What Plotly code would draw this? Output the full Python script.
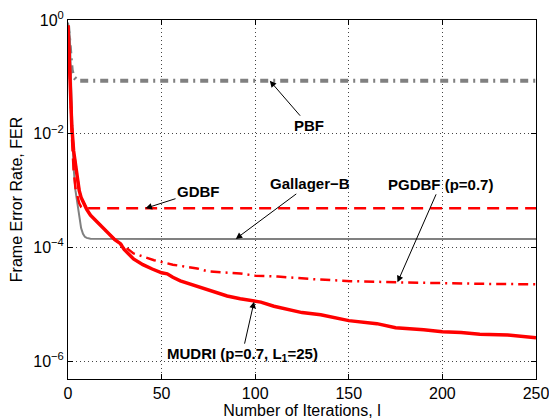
import math
import plotly.graph_objects as go

# ---- data ----
mudri_x = [0, 1, 2, 3, 4, 5, 6, 7, 8, 10, 12, 15, 17, 20, 23, 25, 28, 30, 35, 40, 45, 50, 53, 56,
           60, 65, 75, 85, 92, 100, 103, 110, 125, 135, 150, 165, 175, 190, 200, 210, 220, 235, 250]
mudri_y = [0.8, 0.11, 0.014, 5.0e-3, 2.8e-3, 1.6e-3, 1.0e-3, 7.6e-4, 6.3e-4, 4.7e-4, 3.7e-4, 2.95e-4,
           2.5e-4, 2.0e-4, 1.55e-4, 1.38e-4, 1.17e-4, 9.3e-5, 6.3e-5, 5.0e-5, 4.2e-5, 3.6e-5, 3.45e-5,
           3.0e-5, 2.6e-5, 2.3e-5, 1.82e-5, 1.41e-5, 1.26e-5, 1.12e-5, 1.10e-5, 9.3e-6, 7.2e-6, 6.6e-6,
           5.2e-6, 4.6e-6, 3.9e-6, 3.6e-6, 3.3e-6, 3.2e-6, 3.0e-6, 2.9e-6, 2.6e-6]

pgdbf_x = [0, 1, 2, 3, 4, 5, 6, 7, 8, 10, 12, 15, 17, 20, 23, 25, 28, 31, 35, 39, 46, 56, 69, 75,
           92, 100, 112, 130, 151, 176, 201, 225, 250]
pgdbf_y = [0.8, 0.11, 0.014, 5.0e-3, 2.8e-3, 1.6e-3, 1.0e-3, 7.6e-4, 6.3e-4, 4.7e-4, 3.7e-4, 2.95e-4,
           2.5e-4, 2.0e-4, 1.55e-4, 1.38e-4, 1.15e-4, 1.0e-4, 7.9e-5, 7.2e-5, 6.0e-5, 5.0e-5, 4.3e-5,
           3.8e-5, 3.5e-5, 3.2e-5, 3.1e-5, 2.8e-5, 2.57e-5, 2.45e-5, 2.34e-5, 2.3e-5, 2.26e-5]

gdbf_x = [0, 1, 2, 3, 4, 5, 6, 7, 8, 50, 100, 150, 200, 250]
gdbf_y = [0.8, 0.16, 0.01, 2.3e-3, 1.1e-3, 7.6e-4, 6.0e-4, 5.2e-4, 4.9e-4, 4.9e-4, 4.9e-4, 4.9e-4,
          4.9e-4, 4.9e-4]

gallager_x = [0, 1, 2, 3, 4, 5, 6, 7, 8, 9, 10, 12, 50, 100, 150, 200, 250]
gallager_y = [0.9, 0.5, 0.03, 2.5e-3, 1.0e-3, 6.0e-4, 3.3e-4, 2.2e-4, 1.74e-4, 1.55e-4, 1.48e-4,
              1.43e-4, 1.42e-4, 1.42e-4, 1.42e-4, 1.42e-4, 1.42e-4]

pbf_x = [0, 1, 2, 3, 4, 5, 50, 100, 150, 200, 250]
pbf_y = [0.8, 0.3, 0.13, 0.1, 0.09, 0.0857, 0.0857, 0.0857, 0.0857, 0.0857, 0.0857]

x_ticks = [0, 50, 100, 150, 200, 250]
y_tickvals = [1, 1e-2, 1e-4, 1e-6]
y_ticktext = ["10<sup>0</sup>", "10<sup>−2</sup>", "10<sup>−4</sup>", "10<sup>−6</sup>"]

RED = "#ff0000"
GRAY = "#808080"

fig = go.Figure()
fig.add_trace(go.Scatter(x=pbf_x, y=pbf_y, mode="lines",
                         line=dict(color=GRAY, width=4, dash="8px,5px,2px,5px")))
fig.add_trace(go.Scatter(x=gallager_x, y=gallager_y, mode="lines",
                         line=dict(color=GRAY, width=2)))
fig.add_trace(go.Scatter(x=gdbf_x, y=gdbf_y, mode="lines",
                         line=dict(color=RED, width=2.5, dash="12px,7px")))
fig.add_trace(go.Scatter(x=pgdbf_x, y=pgdbf_y, mode="lines",
                         line=dict(color=RED, width=2.5, dash="10px,5px,2px,5px")))
fig.add_trace(go.Scatter(x=mudri_x, y=mudri_y, mode="lines",
                         line=dict(color=RED, width=3.5)))

FONT = "Liberation Sans, Arial, sans-serif"
ann_font = dict(family=FONT, size=15, color="black")


def arrow(text, hx, hy, ax, ay):
    fig.add_annotation(x=hx, y=math.log10(hy), xref="x", yref="y", text="<b>" + text + "</b>",
                       showarrow=True, ax=ax, ay=ay, arrowhead=2, arrowsize=1.3,
                       arrowwidth=1, arrowcolor="black", font=ann_font, standoff=0)


arrow("PBF", 107.8, 0.0857, 39, 45)
arrow("GDBF", 41.4, 4.9e-4, 53, -17)
arrow("Gallager−B", 89.6, 1.42e-4, 74, -55)
arrow("PGDBF (p=0.7)", 176, 2.45e-5, 43, -98)
arrow("MUDRI (p=0.7, L<sub>1</sub>=25)", 99.4, 1.12e-5, -12, 53)

axis_common = dict(showline=True, linecolor="black", linewidth=1, mirror="ticks",
                   ticks="inside", ticklen=5, tickcolor="black",
                   showgrid=True, gridcolor="#444444", griddash="1px,3px", gridwidth=1,
                   zeroline=False, ticklabeloverflow="allow", automargin=False,
                   tickfont=dict(family=FONT, size=16, color="black"))

fig.update_xaxes(range=[0, 250], tickvals=x_ticks,
                 title=dict(text="Number of Iterations, l", standoff=8,
                            font=dict(family=FONT, size=16, color="black")),
                 **axis_common)
fig.update_yaxes(type="log", range=[-6.31, 0], tickvals=y_tickvals, ticktext=y_ticktext,
                 title=dict(text="Frame Error Rate, FER", standoff=6,
                            font=dict(family=FONT, size=16, color="black")),
                 **axis_common)

fig.update_layout(width=549, height=419, margin=dict(l=68, r=13, t=20, b=40),
                  paper_bgcolor="white", plot_bgcolor="white", showlegend=False,
                  font=dict(family=FONT))

fig.write_html("out.html")
